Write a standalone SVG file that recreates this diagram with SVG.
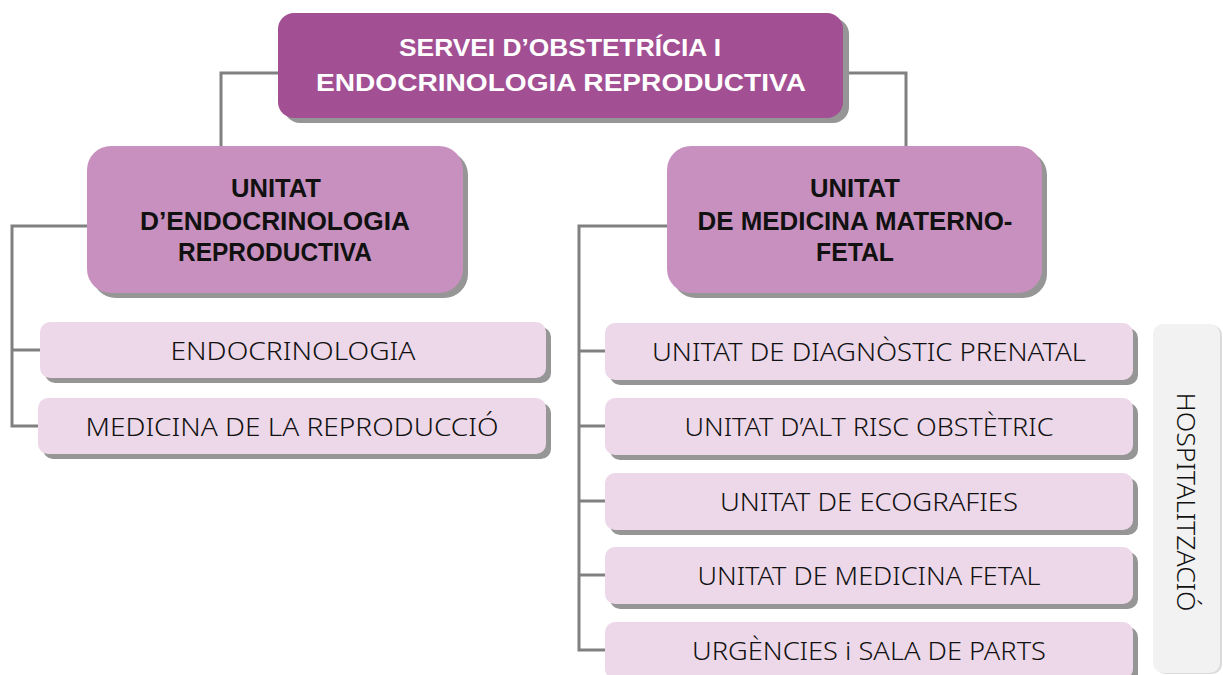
<svg xmlns="http://www.w3.org/2000/svg" width="1223" height="675" viewBox="0 0 1223 675">
<style>
.conn{fill:none;stroke:#808080;stroke-width:3}
.sh{fill:#969696}
.top{fill:#A25093}
.unit{fill:#C890BE}
.sub{fill:#EDD8E9}
.hosp{fill:#F2F2F2}
.t1{font-family:"Liberation Sans",Arial,sans-serif;font-weight:bold;font-size:24px;fill:#ffffff;text-anchor:middle}
.t2{font-family:"Liberation Sans",Arial,sans-serif;font-weight:bold;font-size:25px;fill:#111111;text-anchor:middle}
.t3{font-family:"Noto Sans","Liberation Sans",Arial,sans-serif;font-weight:300;font-size:26px;fill:#111111;text-anchor:middle}
</style>
<rect width="1223" height="675" fill="#ffffff"/>
<g id="connectors">
<polyline class="conn" points="280,73 221,73 221,148"/>
<polyline class="conn" points="842,73 906,73 906,148"/>
<polyline class="conn" points="88,226 12,226 12,426 39,426"/>
<line class="conn" x1="12" y1="350" x2="41" y2="350"/>
<polyline class="conn" points="668,226 579,226 579,650 606,650"/>
<line class="conn" x1="579" y1="351" x2="606" y2="351"/>
<line class="conn" x1="579" y1="426" x2="606" y2="426"/>
<line class="conn" x1="579" y1="501" x2="606" y2="501"/>
<line class="conn" x1="579" y1="575" x2="606" y2="575"/>
</g>
<g id="servei">
<rect class="sh" x="284" y="18" width="565" height="105" rx="16"/>
<rect class="top" x="278" y="13" width="565" height="105" rx="16"/>
<text class="t1" x="560" y="56" textLength="322" lengthAdjust="spacingAndGlyphs">SERVEI D’OBSTETRÍCIA I</text>
<text class="t1" x="561" y="91" textLength="490" lengthAdjust="spacingAndGlyphs">ENDOCRINOLOGIA REPRODUCTIVA</text>
</g>
<g id="unitat-endo">
<rect class="sh" x="92" y="151" width="376" height="147" rx="24"/>
<rect class="unit" x="87" y="146" width="376" height="147" rx="24"/>
<text class="t2" x="276" y="197" textLength="90" lengthAdjust="spacingAndGlyphs">UNITAT</text>
<text class="t2" x="275" y="230" textLength="270" lengthAdjust="spacingAndGlyphs">D’ENDOCRINOLOGIA</text>
<text class="t2" x="275" y="261" textLength="194" lengthAdjust="spacingAndGlyphs">REPRODUCTIVA</text>
</g>
<g id="unitat-mmf">
<rect class="sh" x="672" y="151" width="375" height="147" rx="24"/>
<rect class="unit" x="667" y="146" width="375" height="147" rx="24"/>
<text class="t2" x="855" y="197" textLength="90" lengthAdjust="spacingAndGlyphs">UNITAT</text>
<text class="t2" x="855" y="230" textLength="315" lengthAdjust="spacingAndGlyphs">DE MEDICINA MATERNO-</text>
<text class="t2" x="855" y="261" textLength="78" lengthAdjust="spacingAndGlyphs">FETAL</text>
</g>
<g id="endocrinologia">
<rect class="sh" x="45" y="327" width="506" height="56" rx="10"/>
<rect class="sub" x="40" y="322" width="506" height="56" rx="10"/>
<text class="t3" x="293" y="360" textLength="245" lengthAdjust="spacingAndGlyphs">ENDOCRINOLOGIA</text>
</g>
<g id="medicina-reproduccio">
<rect class="sh" x="43" y="403" width="508" height="56" rx="10"/>
<rect class="sub" x="38" y="398" width="508" height="56" rx="10"/>
<text class="t3" x="292" y="436" textLength="413" lengthAdjust="spacingAndGlyphs">MEDICINA DE LA REPRODUCCIÓ</text>
</g>
<g id="diagnostic-prenatal">
<rect class="sh" x="610" y="328" width="528" height="57" rx="10"/>
<rect class="sub" x="605" y="323" width="528" height="57" rx="10"/>
<text class="t3" x="869" y="361" textLength="434" lengthAdjust="spacingAndGlyphs">UNITAT DE DIAGNÒSTIC PRENATAL</text>
</g>
<g id="alt-risc">
<rect class="sh" x="610" y="403" width="528" height="57" rx="10"/>
<rect class="sub" x="605" y="398" width="528" height="57" rx="10"/>
<text class="t3" x="869" y="436" textLength="369" lengthAdjust="spacingAndGlyphs">UNITAT D’ALT RISC OBSTÈTRIC</text>
</g>
<g id="ecografies">
<rect class="sh" x="610" y="478" width="528" height="57" rx="10"/>
<rect class="sub" x="605" y="473" width="528" height="57" rx="10"/>
<text class="t3" x="869" y="511" textLength="298" lengthAdjust="spacingAndGlyphs">UNITAT DE ECOGRAFIES</text>
</g>
<g id="medicina-fetal">
<rect class="sh" x="610" y="552" width="528" height="57" rx="10"/>
<rect class="sub" x="605" y="547" width="528" height="57" rx="10"/>
<text class="t3" x="869" y="585" textLength="343" lengthAdjust="spacingAndGlyphs">UNITAT DE MEDICINA FETAL</text>
</g>
<g id="urgencies">
<rect class="sh" x="610" y="627" width="528" height="57" rx="10"/>
<rect class="sub" x="605" y="622" width="528" height="57" rx="10"/>
<text class="t3" x="869" y="660" textLength="354" lengthAdjust="spacingAndGlyphs">URGÈNCIES i SALA DE PARTS</text>
</g>
<g id="hospitalitzacio">
<rect x="1155" y="325" width="67" height="349" rx="10" fill="#DADADA"/>
<rect class="hosp" x="1153" y="324" width="67" height="349" rx="10"/>
<text class="t3" x="0" y="0" font-size="21" transform="translate(1177,502) rotate(90)" textLength="219" lengthAdjust="spacingAndGlyphs">HOSPITALITZACIÓ</text>
</g>
</svg>
